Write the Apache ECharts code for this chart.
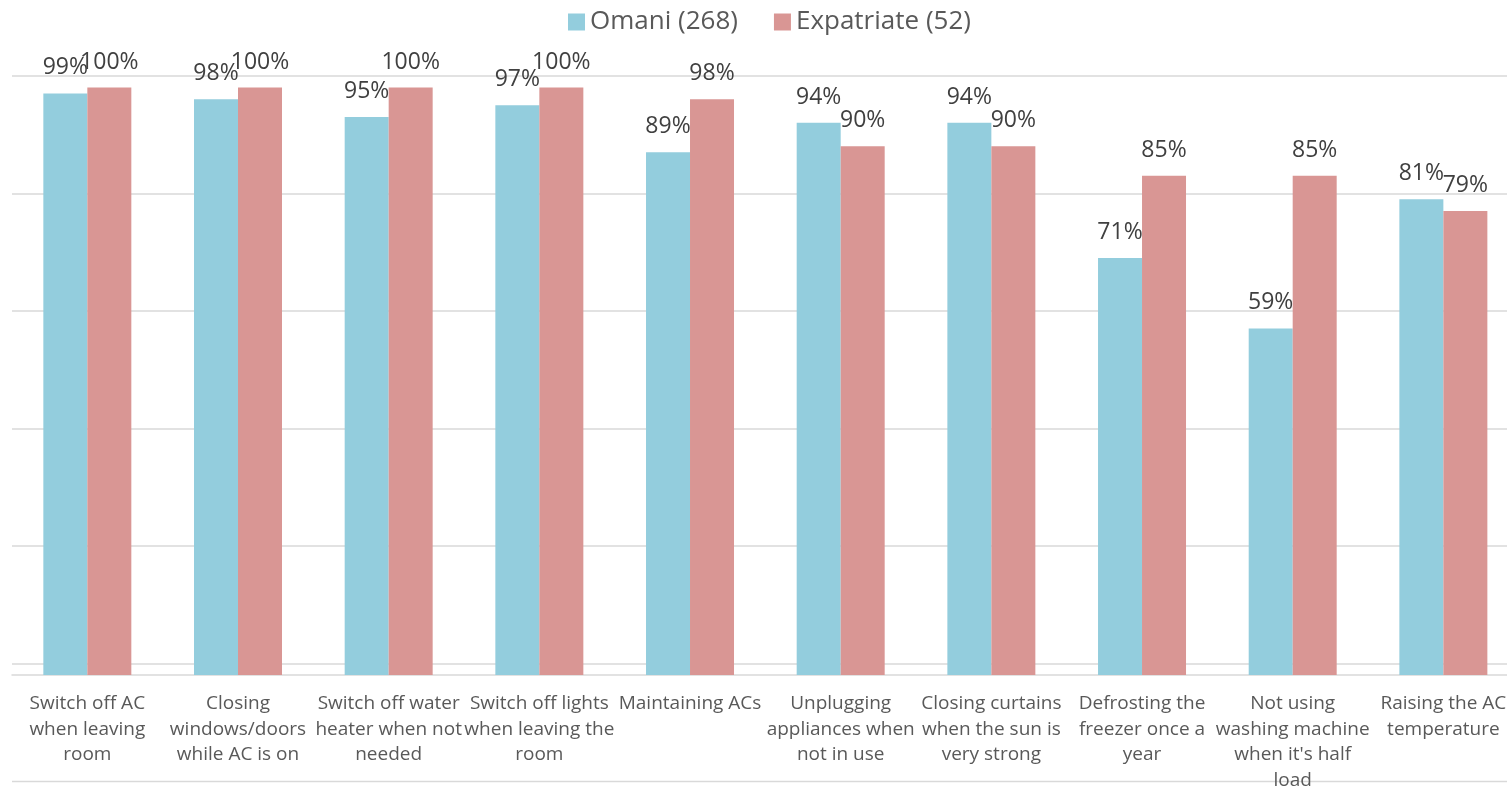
<!DOCTYPE html>
<html>
<head>
<meta charset="utf-8">
<title>Energy saving practices by nationality</title>
<script src="https://cdn.jsdelivr.net/npm/echarts@6/dist/echarts.min.js"></script>
<style>
  html, body { margin: 0; padding: 0; background: #ffffff; }
  #chart { width: 1507px; height: 790px; }
</style>
</head>
<body>
<div id="chart"></div>
<script>
// Practice categories (line breaks as wrapped under the axis)
const categories = [
  'Switch off AC\nwhen leaving\nroom',
  'Closing\nwindows/doors\nwhile AC is on',
  'Switch off water\nheater when not\nneeded',
  'Switch off lights\nwhen leaving the\nroom',
  'Maintaining ACs',
  'Unplugging\nappliances when\nnot in use',
  'Closing curtains\nwhen the sun is\nvery strong',
  'Defrosting the\nfreezer once a\nyear',
  'Not using\nwashing machine\nwhen it\'s half\nload',
  'Raising the AC\ntemperature'
];

// Share of respondents (%) per group
const omaniName = 'Omani (268)';
const omani = [99, 98, 95, 97, 89, 94, 94, 71, 59, 81];

const expatName = 'Expatriate (52)';
const expatriate = [100, 100, 100, 100, 98, 90, 90, 85, 85, 79];

// Horizontal guide lines (%)
const guideLines = [2, 22, 42, 62, 82, 102];

const FONT = '"Open Sans", "Noto Sans", sans-serif';
const GRID_COLOR = '#d9d9d9';

const chart = echarts.init(document.getElementById('chart'), null, { renderer: 'canvas' });

const labelStyle = {
  show: true,
  position: 'top',
  distance: 14,
  formatter: '{c}%',
  fontFamily: FONT,
  fontSize: 23,
  color: '#404040'
};

chart.setOption({
  animation: false,
  backgroundColor: '#ffffff',
  textStyle: { fontFamily: FONT },
  legend: {
    data: [omaniName, expatName],
    left: 563,
    top: 4,
    padding: 5,
    itemWidth: 17,
    itemHeight: 17,
    itemGap: 36,
    icon: 'rect',
    selectedMode: false,
    textStyle: { fontFamily: FONT, fontSize: 26, color: '#595959' }
  },
  grid: {
    left: 12,
    top: 75.75,
    width: 1506.7,
    height: 599.25,
    containLabel: false,
    outerBoundsMode: 'none'
  },
  xAxis: {
    type: 'category',
    data: categories,
    axisTick: { show: false },
    axisLine: { show: true, lineStyle: { color: GRID_COLOR, width: 1.5 } },
    axisLabel: {
      interval: 0,
      margin: 16,
      fontFamily: FONT,
      fontSize: 19,
      lineHeight: 25.5,
      color: '#595959',
      align: 'center'
    },
    splitLine: { show: false }
  },
  yAxis: {
    type: 'value',
    min: 0,
    max: 102,
    show: false,
    splitLine: { show: false }
  },
  series: [
    {
      name: omaniName,
      type: 'bar',
      data: omani,
      barGap: '0%',
      barCategoryGap: '41.6%',
      itemStyle: { color: '#93CDDD' },
      label: labelStyle,
      z: 2,
      markLine: {
        silent: true,
        z: 1,
        symbol: 'none',
        label: { show: false },
        lineStyle: { color: GRID_COLOR, width: 1.5, type: 'solid' },
        data: guideLines.map(v => ({ yAxis: v }))
      }
    },
    {
      name: expatName,
      type: 'bar',
      data: expatriate,
      barGap: '0%',
      barCategoryGap: '41.6%',
      itemStyle: { color: '#D99694' },
      label: labelStyle,
      z: 3
    }
  ],
  graphic: [
    {
      type: 'line',
      silent: true,
      shape: { x1: 12, y1: 781.5, x2: 1507, y2: 781.5 },
      style: { stroke: GRID_COLOR, lineWidth: 1.5 }
    }
  ]
});
</script>
</body>
</html>
